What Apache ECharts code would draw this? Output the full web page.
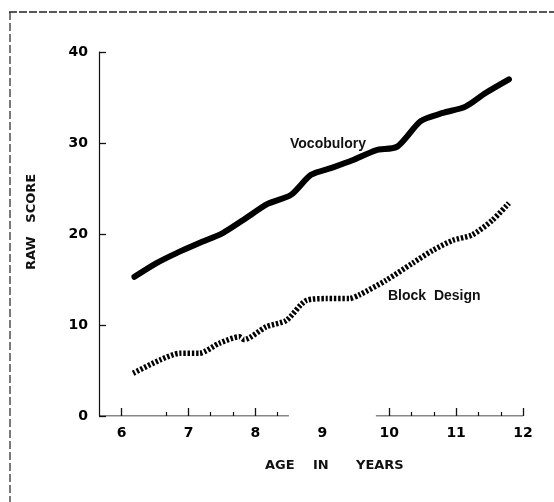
<!DOCTYPE html>
<html>
<head>
<meta charset="utf-8">
<script src="https://cdn.jsdelivr.net/npm/echarts@6/dist/echarts.min.js"></script>
<style>
html,body{margin:0;padding:0;background:#fff;}
#chart{width:554px;height:502px;}
</style>
</head>
<body>
<div id="chart"></div>
<script>
// Ages (years) and raw scores
const vocabAges   = [6.19, 6.52, 6.82, 7.16, 7.51, 7.81, 8.18, 8.53, 8.83, 9.15, 9.45, 9.80, 10.12, 10.47, 10.80, 11.14, 11.44, 11.79];
const vocabScores = [15.3, 16.8, 17.9, 19.0, 20.1, 21.5, 23.3, 24.3, 26.5, 27.3, 28.1, 29.2, 29.6, 32.4, 33.3, 34.0, 35.5, 37.0];

const blockAges   = [6.17, 6.57, 6.87, 7.16, 7.46, 7.76, 7.83, 8.16, 8.46, 8.76, 9.06, 9.40, 9.55, 9.95, 10.35, 10.65, 10.95, 11.24, 11.54, 11.79];
const blockScores = [4.7, 6.15, 6.9, 6.9, 8.0, 8.7, 8.4, 9.8, 10.5, 12.7, 12.9, 12.9, 13.3, 14.9, 16.8, 18.2, 19.3, 19.9, 21.5, 23.4];

const xTickLabels = [6, 7, 8, 9, 10, 11, 12];
const xMajorTicks = [6, 7, 8, 10, 11, 12];
const xMinorTicks = [6.67, 7.33, 7.67, 8.33, 10.33, 10.67, 11.33, 11.67];
const yTickLabels = [0, 10, 20, 30, 40];
const xMin = 5.66, xMax = 12;
// broken x-axis baseline pieces (in age units)
const axisLeftPiece  = [5.66, 8.5];
const axisRightPiece = [9.8, 12];

const pair = (xs, ys) => xs.map((x, i) => [x, ys[i]]);

const chart = echarts.init(document.getElementById('chart'), null, {renderer: 'canvas'});
const labelFont = {fontFamily: '"DejaVu Sans", sans-serif', fontWeight: 'bold', color: '#000'};
const TXT = 'bold 13px "DejaVu Sans", sans-serif';

chart.setOption({
  animation: false,
  backgroundColor: '#fff',
  grid: {left: 99, right: 31, top: 52, bottom: 86},
  xAxis: [{
    type: 'value', position: 'bottom', min: xMin, max: xMax,
    axisLine: {show: false},
    splitLine: {show: false},
    axisTick: {show: true, inside: true, length: 8, customValues: xMajorTicks, lineStyle: {color: '#111', width: 1.3}},
    axisLabel: {show: true, customValues: xTickLabels, margin: 10, fontSize: 14, ...labelFont}
  }, {
    type: 'value', position: 'bottom', min: xMin, max: xMax,
    axisLine: {show: false},
    splitLine: {show: false},
    axisTick: {show: true, inside: true, length: 4, customValues: xMinorTicks, lineStyle: {color: '#111', width: 1.2}},
    axisLabel: {show: false}
  }],
  yAxis: {
    type: 'value', min: 0, max: 40, interval: 10,
    axisLine: {show: true, lineStyle: {color: '#111', width: 1.2}},
    splitLine: {show: false},
    axisTick: {show: true, inside: true, length: 7, lineStyle: {color: '#111', width: 1.3}},
    axisLabel: {margin: 11, fontSize: 14, ...labelFont}
  },
  series: [{
    name: 'axis', type: 'line', xAxisIndex: 0, silent: true, symbol: 'none',
    data: [[axisLeftPiece[0], 0], [axisLeftPiece[1], 0], ['-', '-'], [axisRightPiece[0], 0], [axisRightPiece[1], 0]],
    connectNulls: false,
    lineStyle: {color: '#111', width: 1.2}
  }, {
    name: 'Vocobulory', type: 'line', symbol: 'none', smooth: 0.25,
    data: pair(vocabAges, vocabScores),
    lineStyle: {color: '#000', width: 6, cap: 'round', join: 'round'}
  }, {
    name: 'Block Design', type: 'line', symbol: 'none', smooth: 0.25,
    data: pair(blockAges, blockScores),
    lineStyle: {color: '#000', width: 5.5, type: [2.4, 1.8]}
  }],
  graphic: [
    {type: 'line', shape: {x1: 9, y1: 12, x2: 554, y2: 12}, style: {stroke: '#222', lineWidth: 1.3, lineDash: [8, 2]}},
    {type: 'line', shape: {x1: 10, y1: 12, x2: 10, y2: 502}, style: {stroke: '#222', lineWidth: 1.2, lineDash: [8, 3]}},
    {type: 'text', left: 290, top: 137, style: {text: 'Vocobulory', font: 'bold 14px "Liberation Sans", Arial, sans-serif', fill: '#111'}},
    {type: 'text', left: 388, top: 289, style: {text: 'Block  Design', font: 'bold 14px "Liberation Sans", Arial, sans-serif', fill: '#111'}},
    {type: 'text', left: 265, top: 459, style: {text: 'AGE', font: TXT, fill: '#111'}},
    {type: 'text', left: 313, top: 459, style: {text: 'IN', font: TXT, fill: '#111'}},
    {type: 'text', left: 356, top: 459, style: {text: 'YEARS', font: TXT, fill: '#111'}},
    {type: 'text', x: 32, y: 222, rotation: Math.PI / 2,
     style: {text: 'RAW   SCORE', font: TXT, fill: '#111', align: 'center', verticalAlign: 'middle'}}
  ]
});
</script>
</body>
</html>
